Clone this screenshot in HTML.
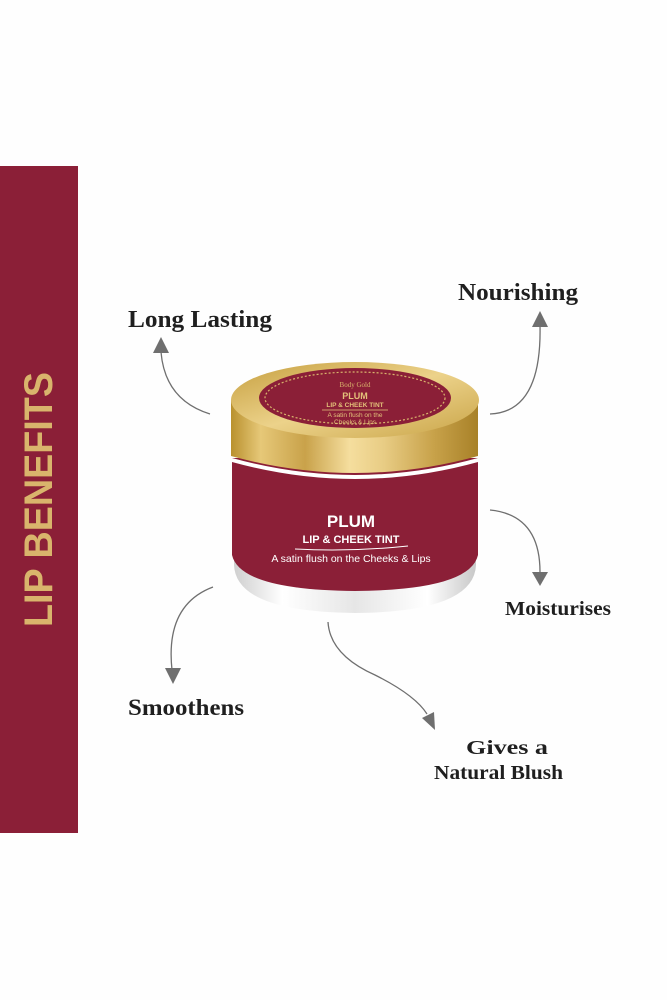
<!DOCTYPE html>
<html><head><meta charset="utf-8"><style>
html,body{margin:0;padding:0;background:#fefefe;}
svg{display:block}
</style></head><body>
<svg width="667" height="1000" viewBox="0 0 667 1000" xmlns="http://www.w3.org/2000/svg">
<defs>
<linearGradient id="gold" x1="0" x2="1" y1="0" y2="0">
<stop offset="0" stop-color="#b9912e"/><stop offset="0.12" stop-color="#e6c878"/>
<stop offset="0.3" stop-color="#c9a24a"/><stop offset="0.48" stop-color="#f5de9e"/>
<stop offset="0.62" stop-color="#e8cc84"/><stop offset="0.82" stop-color="#c8a24a"/>
<stop offset="1" stop-color="#a88128"/></linearGradient>
<linearGradient id="goldtop" x1="0" x2="1" y1="0" y2="1">
<stop offset="0" stop-color="#c69f3f"/><stop offset="0.5" stop-color="#ecd28a"/><stop offset="1" stop-color="#c9a447"/></linearGradient>
<linearGradient id="white" x1="0" x2="1">
<stop offset="0" stop-color="#cfcfcf"/><stop offset="0.2" stop-color="#fff"/><stop offset="0.5" stop-color="#e6e6e6"/><stop offset="0.8" stop-color="#fff"/><stop offset="1" stop-color="#c8c8c8"/></linearGradient>
</defs>
<rect x="0" y="166" width="78" height="667" fill="#8b1f37"/>
<text transform="translate(52,627) rotate(-90)" font-family="Liberation Sans, sans-serif" font-weight="bold" font-size="40" fill="#d9b46c" textLength="255" lengthAdjust="spacingAndGlyphs">LIP BENEFITS</text>

<path d="M234 540 L234 565 Q236 612 355 613 Q474 612 476 565 L476 540 Z" fill="url(#white)"/>
<path d="M232 458 L232 555 Q240 590 355 591 Q470 590 478 555 L478 458 Z" fill="#8b1f37"/>
<path d="M232 458 Q355 492 478 458 L478 462 Q355 496 232 462 Z" fill="#fff"/>
<path d="M231 400 L231 456 Q355 490 478 456 L478 400 Z" fill="url(#gold)"/>
<ellipse cx="355" cy="400" rx="124" ry="38" fill="url(#goldtop)"/>
<ellipse cx="355" cy="398" rx="96" ry="30" fill="#8b1f37"/>
<ellipse cx="355" cy="398" rx="90" ry="26" fill="none" stroke="#d9b46c" stroke-width="1.2" stroke-dasharray="2 2"/>
<g font-family="Liberation Sans, sans-serif" text-anchor="middle">
<text x="355" y="387" font-size="7" fill="#d9b46c" font-family="Liberation Serif, serif">Body Gold</text>
<text x="355" y="399" font-size="9" font-weight="bold" fill="#e3c27a">PLUM</text>
<text x="355" y="407" font-size="6.5" font-weight="bold" fill="#e3c27a">LIP &amp; CHEEK TINT</text>
<line x1="322" y1="410" x2="388" y2="410" stroke="#e3c27a" stroke-width="0.8"/>
<text x="355" y="417" font-size="6.5" fill="#e3c27a">A satin flush on the</text>
<text x="355" y="424" font-size="6.5" fill="#e3c27a">Cheeks &amp; Lips</text>
<text x="351" y="527" font-size="17" font-weight="bold" fill="#fff">PLUM</text>
<text x="351" y="543" font-size="11" font-weight="bold" fill="#fff">LIP &amp; CHEEK TINT</text>
<path d="M295 549 Q351 552 408 546" stroke="#fff" stroke-width="1" fill="none"/>
<text x="351" y="562" font-size="10.5" fill="#fff">A satin flush on the Cheeks &amp; Lips</text>
</g>

<g stroke="#6f6f6f" stroke-width="1.3" fill="none">
<path d="M210 414 Q165 400 161 352"/>
<path d="M490 414 Q542 412 540 325"/>
<path d="M490 510 Q540 515 540 572"/>
<path d="M213 587 Q165 605 172 670"/>
<path d="M328 622 Q330 655 375 675 Q415 695 427 714"/>
</g>
<g fill="#6f6f6f">
<polygon points="161,337 153,353 169,353"/>
<polygon points="540,311 532,327 548,327"/>
<polygon points="540,586 532,572 548,572"/>
<polygon points="173,684 165,668 181,668"/>
<polygon points="435,730 422,718 434,712"/>
</g>
<g font-family="Liberation Serif, serif" font-weight="bold" fill="#1f1f1f">
<text x="128" y="327" font-size="24" textLength="144" lengthAdjust="spacingAndGlyphs">Long Lasting</text>
<text x="458" y="300" font-size="24" textLength="120" lengthAdjust="spacingAndGlyphs">Nourishing</text>
<text x="505" y="615" font-size="20" textLength="106" lengthAdjust="spacingAndGlyphs">Moisturises</text>
<text x="128" y="715" font-size="23" textLength="116" lengthAdjust="spacingAndGlyphs">Smoothens</text>
<text x="466" y="754" font-size="20" textLength="82" lengthAdjust="spacingAndGlyphs">Gives a</text>
<text x="434" y="779" font-size="20" textLength="129" lengthAdjust="spacingAndGlyphs">Natural Blush</text>
</g>
</svg>
</body></html>
